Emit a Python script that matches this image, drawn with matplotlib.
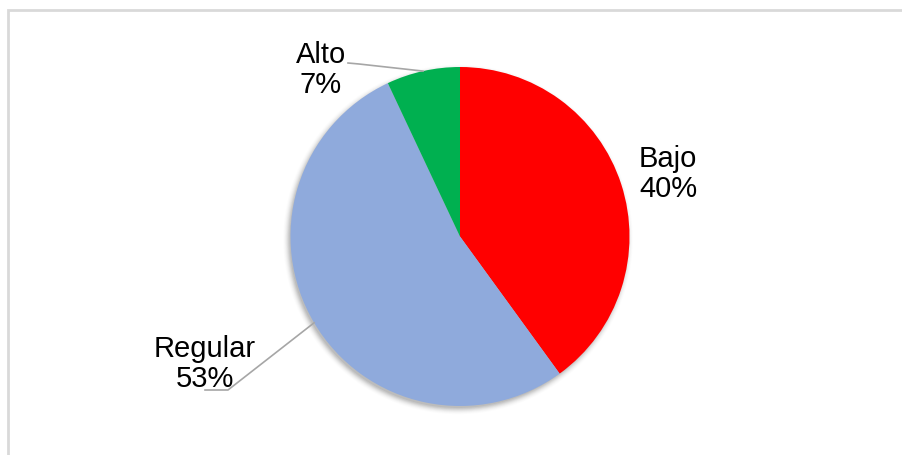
import numpy as np
import matplotlib.pyplot as plt
from matplotlib.patches import Rectangle, Circle

plt.rcParams['font.family'] = ['Liberation Sans', 'DejaVu Sans']

labels = ['Bajo', 'Regular', 'Alto']
values = [40, 53, 7]
colors = ['#FF0000', '#8FAADC', '#00B050']

W, H = 902, 456
fig = plt.figure(figsize=(W / 100, H / 100), dpi=100)
ax = fig.add_axes([0, 0, 1, 1])

# chart area border (runs off the right and bottom edges)
ax.add_patch(Rectangle((7.5, -20), W + 40, H - 10.5 + 20, fill=False,
                       edgecolor='#d9d9d9', linewidth=2))

cx, cy, r = 460, H - 237.5, 169.5

# soft drop shadow, shifted down and to the left
for i, a in enumerate(np.linspace(0.06, 0.01, 8)):
    ax.add_patch(Circle((cx - 2, cy - 3), r - 1 + i * 0.9, color='black',
                        alpha=a, linewidth=0, zorder=1))

wedges, _ = ax.pie(values, colors=colors, startangle=90, counterclock=False,
                   center=(cx, cy), radius=r, frame=True,
                   wedgeprops=dict(linewidth=0, zorder=2))
ax.set_xlim(0, W)
ax.set_ylim(0, H)
ax.set_aspect('equal')
ax.axis('off')

# label text positions, with elbow points for the leader lines
label_pos = {'Bajo': (668, H - 174), 'Regular': (205, H - 364), 'Alto': (321, H - 70)}
elbows = {'Regular': [(228, H - 391), (205, H - 391)],
          'Alto': [(359, H - 65), (348, H - 64)]}

for w, lab, v in zip(wedges, labels, values):
    tx, ty = label_pos[lab]
    ax.text(tx, ty, f'{lab}\n{v}%', ha='center', va='center', fontsize=21,
            linespacing=1.08, color='black', zorder=5)
    if lab in elbows:
        mid = np.deg2rad((w.theta1 + w.theta2) / 2)
        ex, ey = cx + r * np.cos(mid), cy + r * np.sin(mid)
        pts = [(ex, ey)] + elbows[lab]
        ax.plot([p[0] for p in pts], [p[1] for p in pts], color='#a6a6a6',
                linewidth=1.2, zorder=3)

fig.savefig('out.png', dpi=100, facecolor='white')
